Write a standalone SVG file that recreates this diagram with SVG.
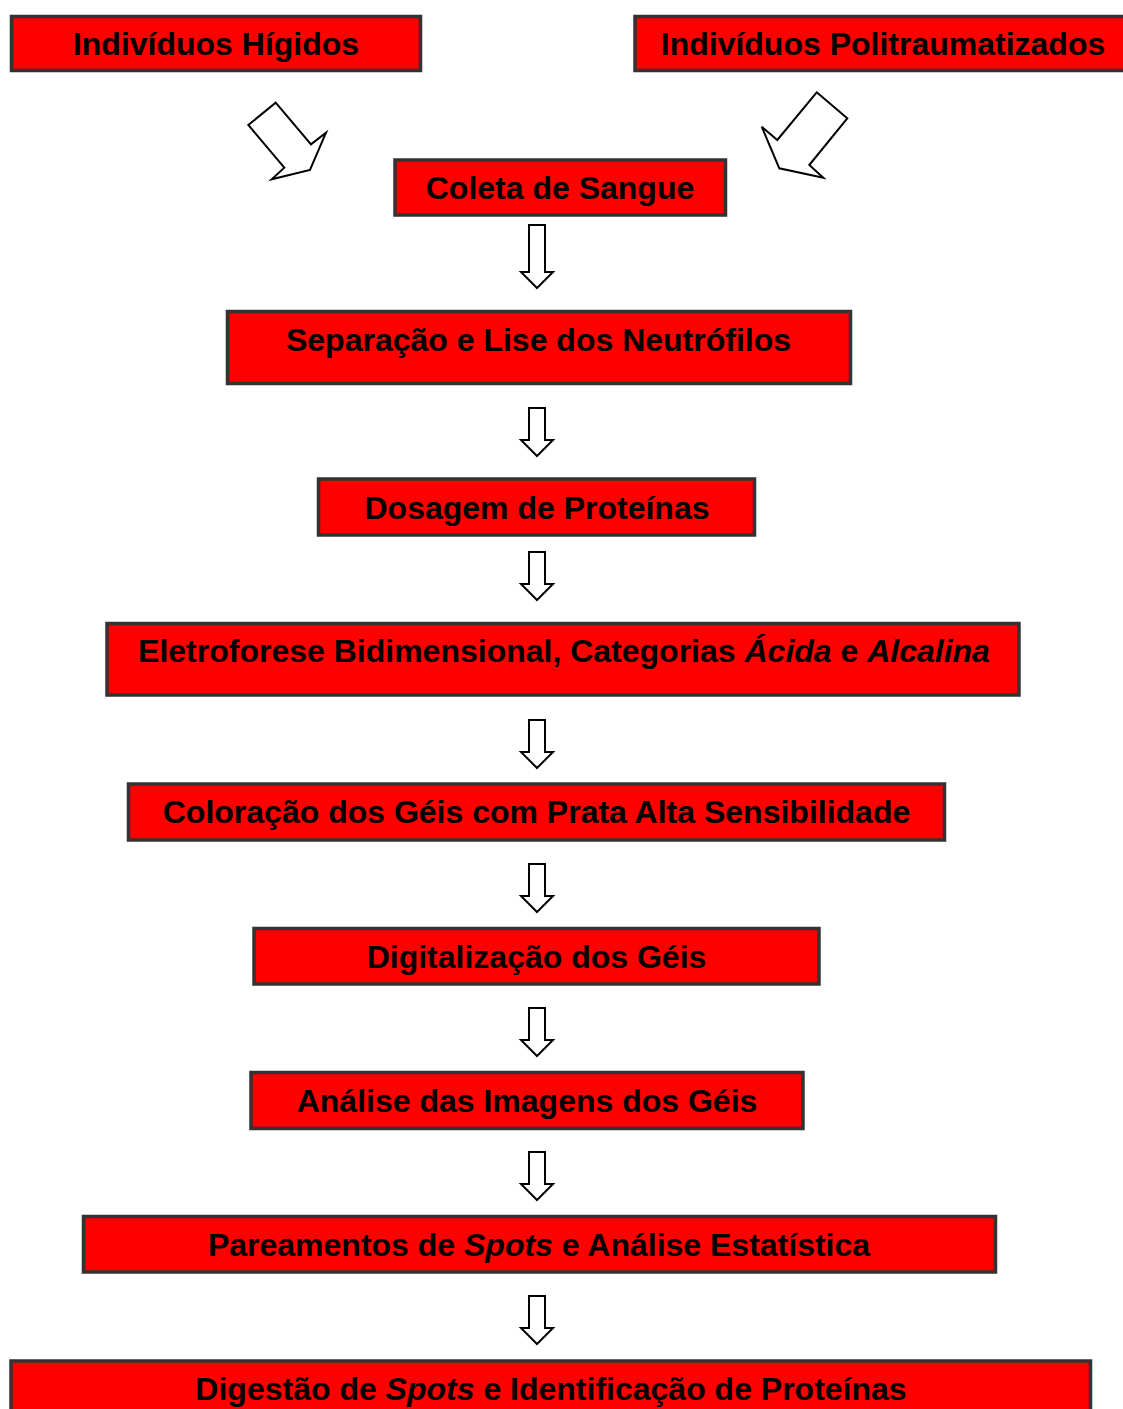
<svg xmlns="http://www.w3.org/2000/svg" xmlns:xlink="http://www.w3.org/1999/xlink" width="1123" height="1409" viewBox="0 0 1123 1409">
  <style>
    .box { fill: #ff0000; stroke: #333333; stroke-width: 3.5; }
    .lbl { font-family: "Liberation Sans", Arial, sans-serif; font-weight: bold; font-size: 32px; fill: #000000; text-anchor: middle; }
    .it { font-style: italic; }
    .arrow { fill: #ffffff; stroke: #000000; stroke-width: 2; stroke-linejoin: miter; }
  </style>
  <defs>
    <!-- block arrow pointing down, 64px long -->
    <path id="downLong" d="M -8 0 H 8 V 47 H 16 L 0 63 L -16 47 H -8 Z"/>
    <!-- block arrow pointing down, 48px long -->
    <path id="downShort" d="M -8 0 H 8 V 32 H 16 L 0 48 L -16 32 H -8 Z"/>
  </defs>

  <rect width="1123" height="1409" fill="#ffffff"/>

  <g id="connectors">
    <polygon class="arrow" points="248.3,125 275.7,102.7 311,144.3 326,132.7 310,170 271.7,179.3 284.3,167.7"/>
    <polygon class="arrow" points="816.7,92.3 847.3,118.3 809.3,165 823.3,177.7 779.3,168.3 761.7,126.7 777.3,140"/>
    <use xlink:href="#downLong" class="arrow" x="537" y="225"/>
    <use xlink:href="#downShort" class="arrow" x="537" y="408"/>
    <use xlink:href="#downShort" class="arrow" x="537" y="552"/>
    <use xlink:href="#downShort" class="arrow" x="537" y="720"/>
    <use xlink:href="#downShort" class="arrow" x="537" y="864"/>
    <use xlink:href="#downShort" class="arrow" x="537" y="1008"/>
    <use xlink:href="#downShort" class="arrow" x="537" y="1152"/>
    <use xlink:href="#downShort" class="arrow" x="537" y="1296"/>
  </g>

  <g id="higidos">
    <rect class="box" x="11.5" y="16.5" width="409" height="54"/>
    <text class="lbl" x="216" y="55">Indivíduos Hígidos</text>
  </g>

  <g id="politraumatizados">
    <rect class="box" x="635" y="16.5" width="492" height="54"/>
    <text class="lbl" x="883" y="55">Indivíduos Politraumatizados</text>
  </g>

  <g id="coleta">
    <rect class="box" x="395" y="160" width="330.5" height="55"/>
    <text class="lbl" x="560" y="198.5">Coleta de Sangue</text>
  </g>

  <g id="separacao">
    <rect class="box" x="227.5" y="311.5" width="623" height="72"/>
    <text class="lbl" x="538.5" y="350.5">Separação e Lise dos Neutrófilos</text>
  </g>

  <g id="dosagem">
    <rect class="box" x="318.5" y="479" width="436" height="56"/>
    <text class="lbl" x="537" y="518.5">Dosagem de Proteínas</text>
  </g>

  <g id="eletroforese">
    <rect class="box" x="107" y="623.5" width="912" height="71.5"/>
    <text class="lbl" x="564" y="661.5">Eletroforese Bidimensional, Categorias <tspan class="it">Ácida</tspan> e <tspan class="it">Alcalina</tspan></text>
  </g>

  <g id="coloracao">
    <rect class="box" x="128.5" y="784" width="816" height="56"/>
    <text class="lbl" x="536.5" y="823">Coloração dos Géis com Prata Alta Sensibilidade</text>
  </g>

  <g id="digitalizacao">
    <rect class="box" x="254" y="928.5" width="565" height="55.5"/>
    <text class="lbl" x="536.5" y="967.5">Digitalização dos Géis</text>
  </g>

  <g id="analise">
    <rect class="box" x="251" y="1072.5" width="552" height="56"/>
    <text class="lbl" x="527" y="1111.5">Análise das Imagens dos Géis</text>
  </g>

  <g id="pareamentos">
    <rect class="box" x="83.5" y="1216.5" width="912" height="55.5"/>
    <text class="lbl" x="539" y="1255.5">Pareamentos de <tspan class="it">Spots</tspan> e Análise Estatística</text>
  </g>

  <g id="digestao">
    <rect class="box" x="11" y="1361" width="1079.5" height="60"/>
    <text class="lbl" x="551" y="1399.5">Digestão de <tspan class="it">Spots</tspan> e Identificação de Proteínas</text>
  </g>
</svg>
